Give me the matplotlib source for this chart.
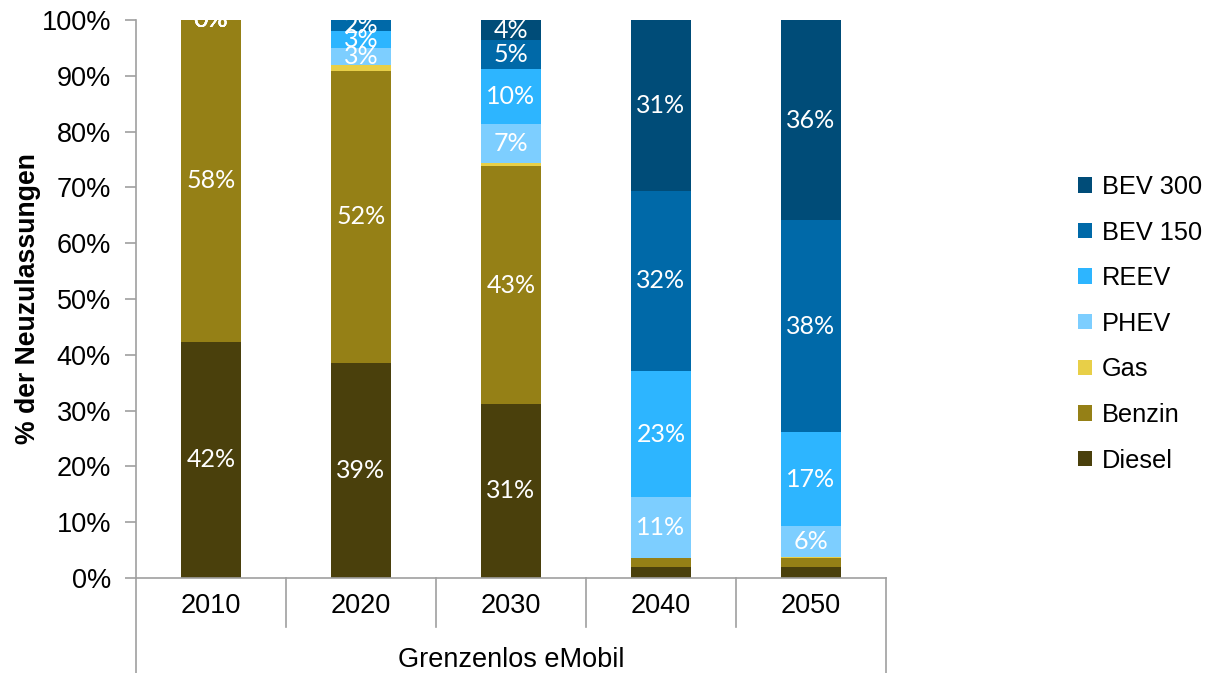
import matplotlib
matplotlib.use("Agg")
from matplotlib import pyplot as plt
import numpy as np

# new registrations share per year (%), scenario "Grenzenlos eMobil"
years = ['2010', '2020', '2030', '2040', '2050']
diesel = [42.3, 38.6, 31.2, 1.9, 1.9]
benzin = [57.7, 52.3, 42.6, 1.6, 1.7]
gas = [0.0, 1.1, 0.5, 0.1, 0.1]
phev = [0.0, 3.0, 7.0, 10.9, 5.6]
reev = [0.0, 3.0, 10.0, 22.6, 16.8]
bev150 = [0.0, 2.0, 5.1, 32.3, 38.0]
bev300 = [0.0, 0.0, 3.6, 30.6, 35.9]

series = [
    ('Diesel', diesel, '#4a400c'),
    ('Benzin', benzin, '#958016'),
    ('Gas', gas, '#e8cf48'),
    ('PHEV', phev, '#7dceff'),
    ('REEV', reev, '#2db5ff'),
    ('BEV 150', bev150, '#0069a8'),
    ('BEV 300', bev300, '#004c78'),
]

plt.rcParams['font.family'] = ['Liberation Sans', 'DejaVu Sans']

fig = plt.figure(figsize=(12.17, 6.73), dpi=100)
ax = fig.add_axes([0.1117, 0.1412, 0.6163, 0.8291])

x = np.arange(len(years))
bottom = np.zeros(len(years))
for name, vals, col in series:
    vals = np.array(vals)
    ax.bar(x, vals, 0.4, bottom=bottom, color=col, label=name, zorder=2)
    for xi, b, v in zip(x, bottom, vals):
        # small shares stay unlabelled, the empty 2010 shares show 0%
        if v >= 2 or (v == 0 and xi == 0):
            ax.text(xi, b + v / 2, f'{v:.0f}%', ha='center', va='center',
                    color='white', fontsize=18, family=['Lato', 'DejaVu Sans'],
                    zorder=3, clip_on=False)
    bottom += vals

ax.set_xlim(-0.5, 4.5)
ax.set_ylim(0, 100)
ax.set_yticks(np.arange(0, 101, 10))
ax.set_yticklabels([f'{t}%' for t in range(0, 101, 10)])
ax.tick_params(axis='y', length=8, width=1.2, color='#a0a0a0', pad=10, labelsize=19.5)
ax.set_xticks(x)
ax.set_xticklabels(years)
ax.tick_params(axis='x', length=0, pad=11, labelsize=19.5)

for s in ['top', 'right']:
    ax.spines[s].set_visible(False)
for s in ['left', 'bottom']:
    ax.spines[s].set_color('#a0a0a0')
    ax.spines[s].set_linewidth(1.2)

# category dividers below the axis
tr = ax.get_xaxis_transform()
for b in np.arange(0.5, 4.5, 1.0):
    ax.plot([b, b], [0, -0.088], transform=tr, color='#a0a0a0', lw=1.2, clip_on=False)
for b in [-0.5, 4.5]:
    ax.plot([b, b], [0, -0.175], transform=tr, color='#a0a0a0', lw=1.2, clip_on=False)
ax.text(2, -0.147, 'Grenzenlos eMobil', transform=tr, ha='center', va='center', fontsize=19.5)

ax.set_ylabel('% der Neuzulassungen', fontsize=19.2, fontweight='bold', labelpad=0)

h, l = ax.get_legend_handles_labels()
fig.legend(h[::-1], l[::-1], loc='center left', bbox_to_anchor=(0.867, 0.519),
           frameon=False, fontsize=18.3, handlelength=0.55, handleheight=0.55,
           handletextpad=0.4, labelspacing=0.85)

fig.savefig('out.png', dpi=100)
